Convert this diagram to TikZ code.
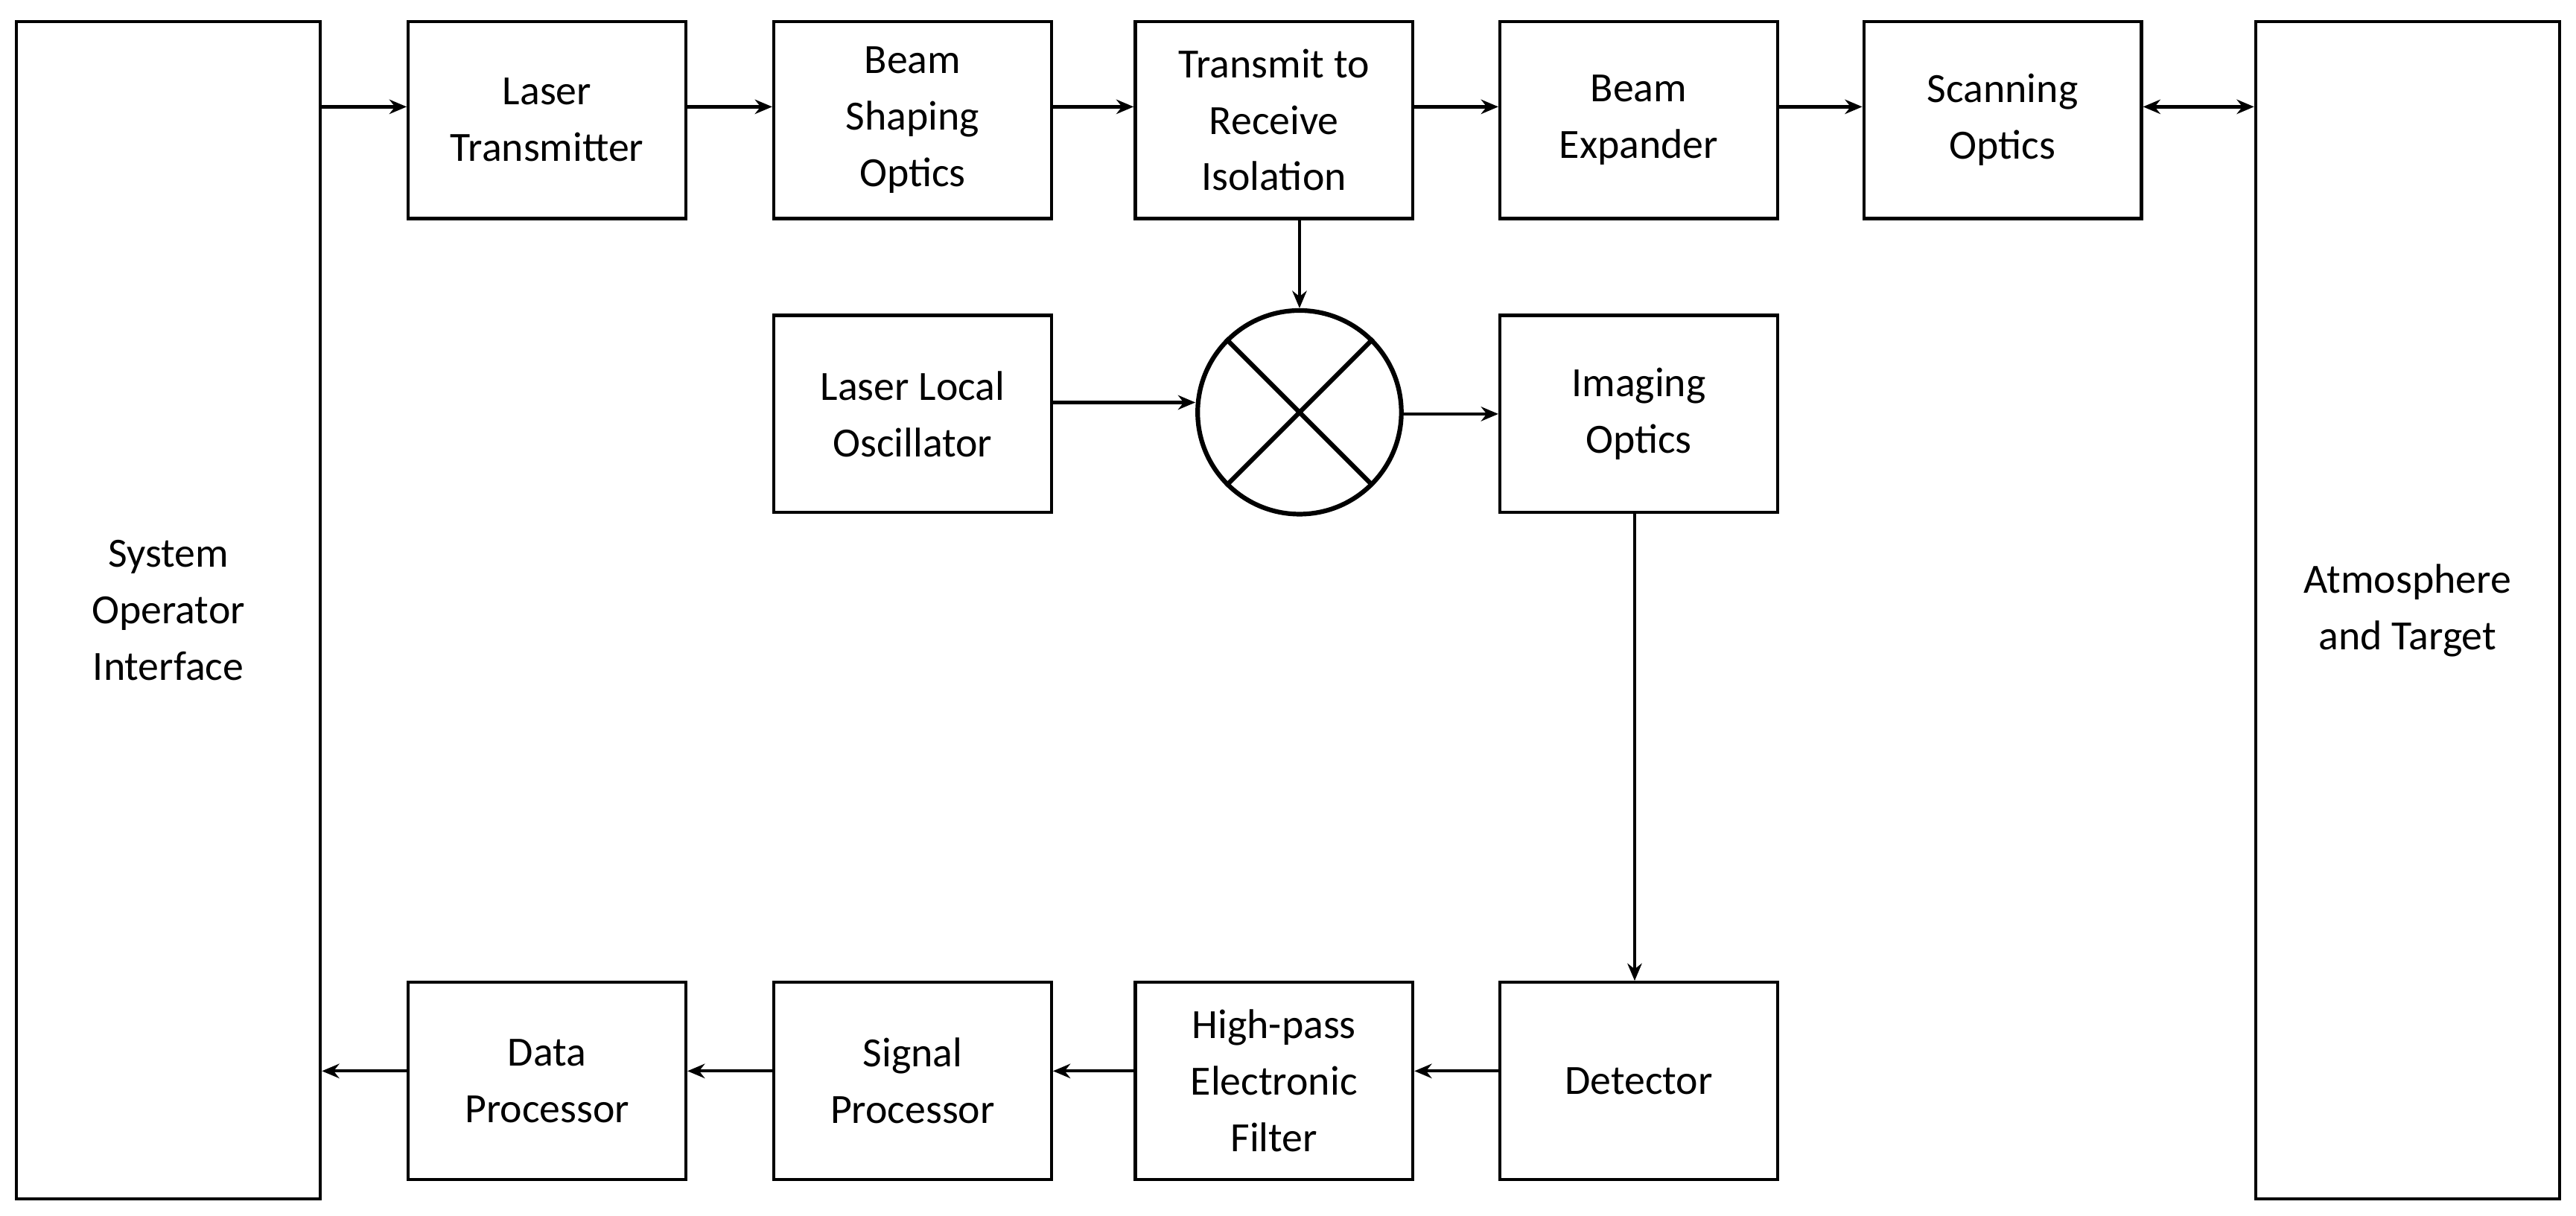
\documentclass[tikz,border=0pt]{standalone}
\usepackage{fontspec}
\setmainfont{Carlito}
\usetikzlibrary{arrows.meta}
\begin{document}
\begin{tikzpicture}[x={(0.02cm,0)},y={(0,-0.02cm)},
  box/.style={draw,line width=1.1pt,align=center,font=\fontsize{14.4}{19.6}\selectfont,inner sep=0pt},
  sb/.style={box,minimum width=3.38cm,minimum height=2.4cm},
  tb/.style={box,minimum width=3.7cm,minimum height=14.34cm},
  ar/.style={line width=1.1pt,-{Stealth[length=6pt,width=5pt]}}]
\useasboundingbox (0,0) rectangle (1568,740);
\node[tb] (sys) at (102.5,371.5) {System\\Operator\\Interface};
\node[tb] (atm) at (1465.5,371.5) {Atmosphere\\and Target};
\node[sb] (lt) at (333,73) {Laser\\Transmitter};
\node[sb] (bs) at (555.5,73) {Beam\\Shaping\\Optics};
\node[sb] (tr) at (775.5,73) {Transmit to\\Receive\\Isolation};
\node[sb] (be) at (997.5,73) {Beam\\Expander};
\node[sb] (so) at (1219,73) {Scanning\\Optics};
\node[sb] (lo) at (555.5,252) {Laser Local\\Oscillator};
\node[draw,circle,line width=1.6pt,minimum size=2.48cm,inner sep=0pt] (mx) at (791,251) {};
\draw[line width=1.6pt] (mx.45) -- (mx.225) (mx.135) -- (mx.315);
\node[sb] (io) at (997.5,252) {Imaging\\Optics};
\node[sb] (dp) at (333,658) {Data\\Processor};
\node[sb] (sp) at (555.5,658) {Signal\\Processor};
\node[sb] (hp) at (775.5,658) {High-pass\\Electronic\\Filter};
\node[sb] (de) at (997.5,658) {Detector};
\draw[ar] (sys.east|-0,65) -- (lt.west|-0,65);
\draw[ar] (lt.east|-0,65) -- (bs.west|-0,65);
\draw[ar] (bs.east|-0,65) -- (tr.west|-0,65);
\draw[ar] (tr.east|-0,65) -- (be.west|-0,65);
\draw[ar] (be.east|-0,65) -- (so.west|-0,65);
\draw[line width=1.1pt,{Stealth[length=6pt,width=5pt]}-{Stealth[length=6pt,width=5pt]}] (so.east|-0,65) -- (atm.west|-0,65);
\draw[ar] (tr.south-|mx.north) -- (mx.north);
\draw[ar] (lo.east|-0,245) -- (mx.west|-0,245);
\draw[ar] (mx.east|-0,252) -- (io.west|-0,252);
\draw[ar] (io.south-|995,0) -- (de.north-|995,0);
\draw[ar] (de.west|-0,652) -- (hp.east|-0,652);
\draw[ar] (hp.west|-0,652) -- (sp.east|-0,652);
\draw[ar] (sp.west|-0,652) -- (dp.east|-0,652);
\draw[ar] (dp.west|-0,652) -- (sys.east|-0,652);
\end{tikzpicture}
\end{document}
